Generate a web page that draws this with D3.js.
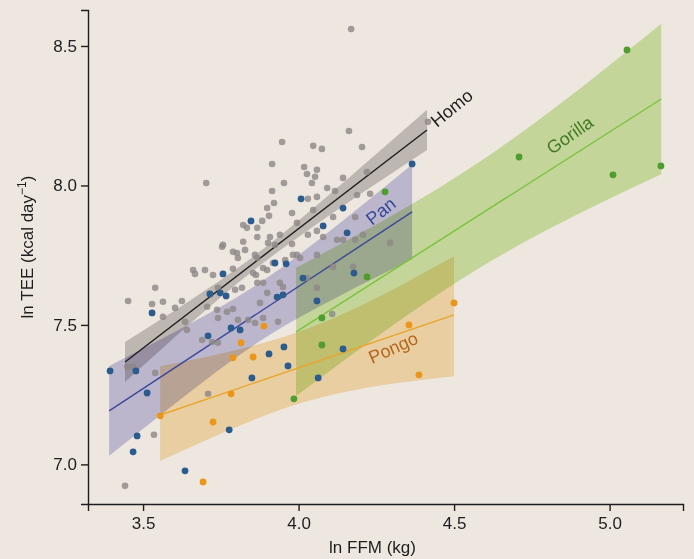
<!DOCTYPE html>
<html>
<head>
<meta charset="utf-8">
<script src="https://cdn.jsdelivr.net/npm/d3@7"></script>
<style>
  html, body { margin: 0; padding: 0; background: #ede7e0; }
  svg { display: block; }
  .axis path, .axis line { stroke: #1e1e1e; stroke-width: 1.4px; }
  .axis text { font-family: "Liberation Sans", Arial, sans-serif; font-size: 17px; fill: #1e1e1e; }
  .band { mix-blend-mode: multiply; }
</style>
</head>
<body>
<svg id="svg"></svg>
<script>
var width = 694,
    height = 559;
var margin = {top: 10, right: 11, bottom: 55, left: 88};
var gwidth = width - margin.left - margin.right,
    gheight = height - margin.top - margin.bottom;

// axis ranges and ticks
var xDomain = [3.323, 5.236];
var yDomain = [6.858, 8.629];
var xTicks = [3.5, 4.0, 4.5, 5.0];
var yTicks = [7.0, 7.5, 8.0, 8.5];

// points, [ln FFM, ln TEE]
var homoPts = [
  [4.169,8.561],[4.162,8.195],[3.947,8.156],[4.047,8.142],[4.075,8.131],[4.204,8.138],
  [4.416,8.228],[4.220,8.048],[4.018,8.066],[4.059,8.056],[4.027,8.041],[4.053,8.031],
  [4.143,8.027],[3.915,8.077],[3.703,8.009],[3.953,8.009],[4.092,7.991],[4.043,8.009],
  [3.915,7.980],[4.117,7.980],[4.059,7.959],[4.030,7.952],[3.921,7.937],[3.899,7.919],
  [3.979,7.901],[4.047,7.912],[4.111,7.887],[3.905,7.891],[3.883,7.873],[3.822,7.858],
  [3.834,7.848],[3.867,7.848],[3.995,7.866],[4.059,7.837],[4.030,7.823],[3.908,7.815],
  [3.867,7.815],[3.940,7.823],[4.079,7.815],[4.143,7.805],[4.182,7.805],[3.902,7.794],
  [3.979,7.790],[3.822,7.798],[3.754,7.780],[3.789,7.762],[3.828,7.769],[3.860,7.751],
  [3.995,7.751],[4.059,7.751],[3.805,7.740],[3.918,7.722],[3.661,7.697],[3.699,7.697],
  [3.725,7.679],[3.863,7.679],[3.886,7.704],[4.005,7.740],[4.111,7.708],[4.175,7.708],
  [3.802,7.758],[3.867,7.740],[3.924,7.787],[3.667,7.683],[3.789,7.701],[3.854,7.686],
  [3.899,7.697],[3.867,7.651],[3.886,7.651],[3.796,7.626],[3.818,7.633],[3.741,7.633],
  [3.539,7.633],[3.452,7.586],[3.529,7.575],[3.564,7.583],[3.625,7.586],[3.603,7.561],
  [3.706,7.565],[3.738,7.554],[3.770,7.547],[3.789,7.557],[3.564,7.529],[3.635,7.511],
  [3.741,7.525],[3.805,7.518],[3.838,7.518],[3.886,7.525],[3.860,7.507],[3.934,7.511],
  [3.899,7.615],[3.876,7.579],[3.641,7.482],[3.690,7.446],[3.722,7.439],[3.741,7.436],
  [3.539,7.328],[3.468,7.350],[3.449,7.350],[3.535,7.106],[3.709,7.253],[3.442,6.923],
  [3.950,7.636],[4.059,7.633],[4.108,7.539],[3.982,7.751],[3.957,7.733],[4.027,7.668],
  [3.940,7.651],[4.294,7.794],[4.124,7.805],[4.230,7.970],[4.188,7.966],[4.182,7.887],
  [4.207,7.823],[3.757,7.787]
];
var panPts = [
  [4.365,8.077],[4.008,7.952],[4.143,7.919],[3.847,7.873],[4.079,7.855],[4.156,7.830],
  [3.924,7.722],[3.960,7.719],[3.757,7.683],[4.014,7.668],[4.178,7.686],[3.529,7.543],
  [3.715,7.611],[3.748,7.615],[3.767,7.604],[3.931,7.600],[3.950,7.608],[4.059,7.586],
  [3.783,7.489],[3.812,7.482],[3.709,7.461],[3.394,7.335],[3.477,7.335],[3.513,7.256],
  [3.850,7.310],[3.905,7.396],[3.953,7.421],[3.966,7.353],[4.063,7.310],[4.143,7.414],
  [3.481,7.102],[3.468,7.045],[3.635,6.977],[3.777,7.124]
];
var gorillaPts = [
  [5.056,8.486],[4.709,8.102],[5.011,8.038],[5.165,8.070],[4.278,7.977],
  [4.220,7.672],[4.075,7.525],[4.075,7.428],[3.985,7.235]
];
var pongoPts = [
  [3.889,7.496],[3.815,7.436],[3.789,7.382],[3.854,7.385],[3.783,7.253],[3.555,7.174],
  [3.725,7.152],[3.693,6.937],[4.500,7.579],[4.355,7.500],[4.387,7.321]
];

// fitted lines, [x, y] end points
var homoFit = [[3.442,7.367],[4.413,8.199]];
var panFit = [[3.391,7.192],[4.365,7.905]];
var gorillaFit = [[3.992,7.475],[5.166,8.310]];
var pongoFit = [[3.555,7.177],[4.500,7.536]];

// confidence bands, [x, lower, upper]
var homoBand = [[3.442,7.295,7.439],[3.65,7.503,7.587],[3.88,7.717,7.767],[4.15,7.932,8.016],[4.413,8.127,8.271]];
var panBand = [[3.391,7.031,7.353],[3.63,7.242,7.492],[3.88,7.445,7.655],[4.13,7.603,7.863],[4.365,7.735,8.075]];
var gorillaBand = [[3.992,7.245,7.705],[4.58,7.703,8.083],[5.166,8.040,8.580]];
var pongoBand = [[3.555,7.012,7.352],[4.03,7.227,7.487],[4.5,7.316,7.746]];

// labels: [text, x, y, angle]
var labels = [
  ["Homo", 4.445, 8.206, -39],
  ["Pan", 4.236, 7.855, -38],
  ["Gorilla", 4.815, 8.109, -35],
  ["Pongo", 4.236, 7.360, -24]
];

var species = [
  {pts: gorillaPts, fit: gorillaFit, band: gorillaBand, fill: "#b6e07a", line: "#79c33c", dot: "#4f9d2e", text: "#3f7a23", op: 0.6},
  {pts: pongoPts, fit: pongoFit, band: pongoBand, fill: "#f7d38a", line: "#eaa52a", dot: "#eb951b", text: "#b4661c", op: 0.62},
  {pts: panPts, fit: panFit, band: panBand, fill: "#a9a8dc", line: "#3b479b", dot: "#2c5b8e", text: "#34479a", op: 0.62},
  {pts: homoPts, fit: homoFit, band: homoBand, fill: "#a39c9c", line: "#1e1c1c", dot: "#8d8787", text: "#1e1c1c", op: 0.55}
];

var container = d3.select("#svg")
    .attr("width", width)
    .attr("height", height);

var svg = container.append("g")
    .attr("transform", "translate(" + margin.left + "," + margin.top + ")");

var x = d3.scaleLinear().domain(xDomain).range([0, gwidth]);
var y = d3.scaleLinear().domain(yDomain).range([gheight, 0]);

var area = d3.area()
    .x(function(d) { return x(d[0]); })
    .y0(function(d) { return y(d[1]); })
    .y1(function(d) { return y(d[2]); })
    .curve(d3.curveNatural);

var line = d3.line()
    .x(function(d) { return x(d[0]); })
    .y(function(d) { return y(d[1]); });

// bands
species.forEach(function(s) {
    svg.append("path").datum(s.band)
        .attr("class", "band")
        .attr("fill", s.fill)
        .attr("opacity", s.op)
        .attr("d", area);
});

// fit lines
species.forEach(function(s) {
    svg.append("path").datum(s.fit)
        .attr("fill", "none")
        .attr("stroke", s.line)
        .attr("stroke-width", 1.4)
        .attr("d", line);
});

// points, homo first so the apes sit on top
[3, 2, 0, 1].forEach(function(i) {
    var s = species[i];
    svg.append("g").selectAll("circle")
        .data(s.pts)
        .enter().append("circle")
        .attr("cx", function(d) { return x(d[0]); })
        .attr("cy", function(d) { return y(d[1]); })
        .attr("r", i == 3 ? 3.3 : 3.4)
        .attr("fill", s.dot)
        .attr("opacity", i == 3 ? 0.8 : 1);
});

// species names
labels.forEach(function(l, i) {
    var s = species[[3, 2, 0, 1][i]];
    svg.append("text")
        .attr("transform", "translate(" + x(l[1]) + "," + y(l[2]) + ") rotate(" + l[3] + ")")
        .attr("font-family", "Liberation Sans, Arial, sans-serif")
        .attr("font-size", 18)
        .attr("fill", s.text)
        .text(l[0]);
});

// axes
var xAxis = d3.axisBottom(x).tickValues(xTicks).tickFormat(d3.format(".1f")).tickSizeOuter(0).tickSize(7).tickPadding(6);
var yAxis = d3.axisLeft(y).tickValues(yTicks).tickFormat(d3.format(".1f")).tickSizeOuter(0).tickSize(7).tickPadding(4);

svg.append("g")
    .attr("class", "x axis")
    .attr("transform", "translate(0," + gheight + ")")
    .call(xAxis);

svg.append("g")
    .attr("class", "y axis")
    .call(yAxis);

svg.append("text")
    .attr("text-anchor", "middle")
    .attr("font-family", "Liberation Sans, Arial, sans-serif")
    .attr("font-size", 17)
    .attr("fill", "#1e1e1e")
    .attr("x", gwidth / 2 - 13)
    .attr("y", gheight + 49)
    .text("ln FFM (kg)");

var ylab = svg.append("text")
    .attr("text-anchor", "middle")
    .attr("font-family", "Liberation Sans, Arial, sans-serif")
    .attr("font-size", 17)
    .attr("fill", "#1e1e1e")
    .attr("transform", "translate(-55," + (gheight / 2 - 10) + ") rotate(-90)");
ylab.append("tspan").text("ln TEE (kcal day");
ylab.append("tspan").attr("dy", -7).attr("font-size", 12).text("\u22121");
ylab.append("tspan").attr("dy", 7).text(")");
</script>
</body>
</html>
